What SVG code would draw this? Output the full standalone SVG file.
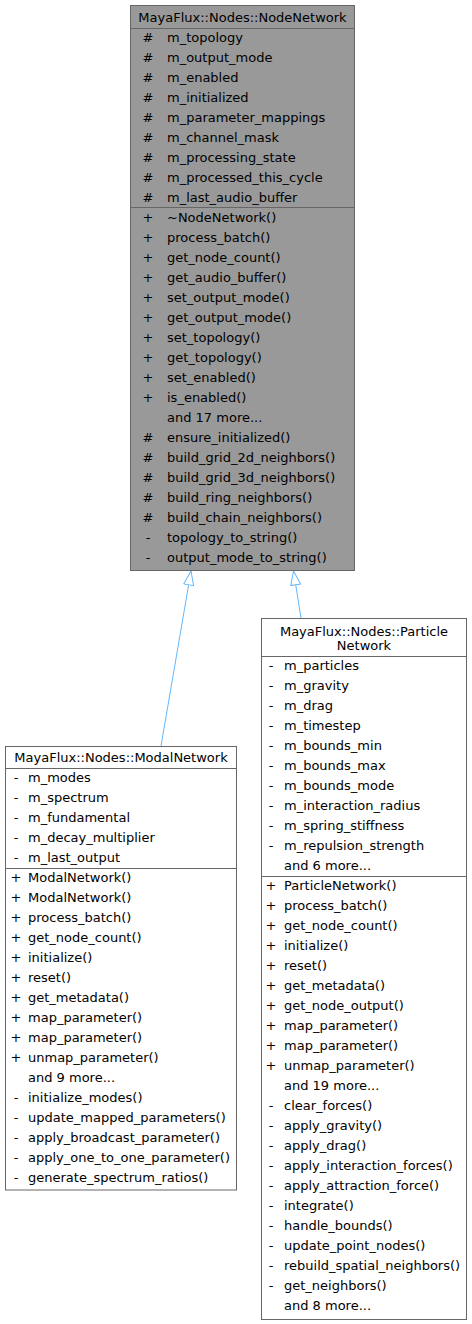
<svg xmlns="http://www.w3.org/2000/svg" width="472" height="1324" viewBox="0 0 472 1324">
<style>
text{font-family:"DejaVu Sans","Liberation Sans",sans-serif;font-size:13px;fill:#000}
.c{text-anchor:middle}
.box{fill:#fff;stroke:#666;stroke-width:1}
.base{fill:#999;stroke:#666;stroke-width:1}
.sep{stroke:#666;stroke-width:1}
.edge{stroke:#63b8ff;stroke-width:1;fill:none}
</style>
<defs>
<marker id="tri" viewBox="0 0 15 11" refX="14.5" refY="5.5" markerWidth="15" markerHeight="11" markerUnits="userSpaceOnUse" orient="auto">
<path d="M0.5,0.5 L14.5,5.5 L0.5,10.5 Z" fill="#fff" stroke="#63b8ff" stroke-width="1"/>
</marker>
</defs>
<g id="edges">
<line class="edge" x1="161" y1="746" x2="191" y2="571" marker-end="url(#tri)"/>
<line class="edge" x1="301" y1="618" x2="293.5" y2="571" marker-end="url(#tri)"/>
</g>
<g id="NodeNetwork">
<rect class="base" x="130.5" y="5.5" width="224" height="565"/>
<line class="sep" x1="130.5" y1="28.5" x2="354.5" y2="28.5"/>
<line class="sep" x1="130.5" y1="207.5" x2="354.5" y2="207.5"/>
<text class="c" x="242.5" y="21.5">MayaFlux::Nodes::NodeNetwork</text>
<text class="c" x="148" y="41.5">#</text><text x="167" y="41.5">m_topology</text>
<text class="c" x="148" y="61.5">#</text><text x="167" y="61.5">m_output_mode</text>
<text class="c" x="148" y="81.5">#</text><text x="167" y="81.5">m_enabled</text>
<text class="c" x="148" y="101.5">#</text><text x="167" y="101.5">m_initialized</text>
<text class="c" x="148" y="121.5">#</text><text x="167" y="121.5">m_parameter_mappings</text>
<text class="c" x="148" y="141.5">#</text><text x="167" y="141.5">m_channel_mask</text>
<text class="c" x="148" y="161.5">#</text><text x="167" y="161.5">m_processing_state</text>
<text class="c" x="148" y="181.5">#</text><text x="167" y="181.5">m_processed_this_cycle</text>
<text class="c" x="148" y="201.5">#</text><text x="167" y="201.5">m_last_audio_buffer</text>
<text class="c" x="148" y="221.5">+</text><text x="167" y="221.5">~NodeNetwork()</text>
<text class="c" x="148" y="241.5">+</text><text x="167" y="241.5">process_batch()</text>
<text class="c" x="148" y="261.5">+</text><text x="167" y="261.5">get_node_count()</text>
<text class="c" x="148" y="281.5">+</text><text x="167" y="281.5">get_audio_buffer()</text>
<text class="c" x="148" y="301.5">+</text><text x="167" y="301.5">set_output_mode()</text>
<text class="c" x="148" y="321.5">+</text><text x="167" y="321.5">get_output_mode()</text>
<text class="c" x="148" y="341.5">+</text><text x="167" y="341.5">set_topology()</text>
<text class="c" x="148" y="361.5">+</text><text x="167" y="361.5">get_topology()</text>
<text class="c" x="148" y="381.5">+</text><text x="167" y="381.5">set_enabled()</text>
<text class="c" x="148" y="401.5">+</text><text x="167" y="401.5">is_enabled()</text>
<text x="167" y="421.5">and 17 more...</text>
<text class="c" x="148" y="441.5">#</text><text x="167" y="441.5">ensure_initialized()</text>
<text class="c" x="148" y="461.5">#</text><text x="167" y="461.5">build_grid_2d_neighbors()</text>
<text class="c" x="148" y="481.5">#</text><text x="167" y="481.5">build_grid_3d_neighbors()</text>
<text class="c" x="148" y="501.5">#</text><text x="167" y="501.5">build_ring_neighbors()</text>
<text class="c" x="148" y="521.5">#</text><text x="167" y="521.5">build_chain_neighbors()</text>
<text class="c" x="148" y="541.5">-</text><text x="167" y="541.5">topology_to_string()</text>
<text class="c" x="148" y="561.5">-</text><text x="167" y="561.5">output_mode_to_string()</text>
</g>
<g id="ModalNetwork">
<rect class="box" x="5.5" y="746.5" width="231" height="443.5"/>
<line class="sep" x1="5.5" y1="768.5" x2="236.5" y2="768.5"/>
<line class="sep" x1="5.5" y1="868.5" x2="236.5" y2="868.5"/>
<text class="c" x="121" y="761.5">MayaFlux::Nodes::ModalNetwork</text>
<text class="c" x="16" y="781.5">-</text><text x="28" y="781.5">m_modes</text>
<text class="c" x="16" y="801.5">-</text><text x="28" y="801.5">m_spectrum</text>
<text class="c" x="16" y="821.5">-</text><text x="28" y="821.5">m_fundamental</text>
<text class="c" x="16" y="841.5">-</text><text x="28" y="841.5">m_decay_multiplier</text>
<text class="c" x="16" y="861.5">-</text><text x="28" y="861.5">m_last_output</text>
<text class="c" x="16" y="881.5">+</text><text x="28" y="881.5">ModalNetwork()</text>
<text class="c" x="16" y="901.5">+</text><text x="28" y="901.5">ModalNetwork()</text>
<text class="c" x="16" y="921.5">+</text><text x="28" y="921.5">process_batch()</text>
<text class="c" x="16" y="941.5">+</text><text x="28" y="941.5">get_node_count()</text>
<text class="c" x="16" y="961.5">+</text><text x="28" y="961.5">initialize()</text>
<text class="c" x="16" y="981.5">+</text><text x="28" y="981.5">reset()</text>
<text class="c" x="16" y="1001.5">+</text><text x="28" y="1001.5">get_metadata()</text>
<text class="c" x="16" y="1021.5">+</text><text x="28" y="1021.5">map_parameter()</text>
<text class="c" x="16" y="1041.5">+</text><text x="28" y="1041.5">map_parameter()</text>
<text class="c" x="16" y="1061.5">+</text><text x="28" y="1061.5">unmap_parameter()</text>
<text x="28" y="1081.5">and 9 more...</text>
<text class="c" x="16" y="1101.5">-</text><text x="28" y="1101.5">initialize_modes()</text>
<text class="c" x="16" y="1121.5">-</text><text x="28" y="1121.5">update_mapped_parameters()</text>
<text class="c" x="16" y="1141.5">-</text><text x="28" y="1141.5">apply_broadcast_parameter()</text>
<text class="c" x="16" y="1161.5">-</text><text x="28" y="1161.5">apply_one_to_one_parameter()</text>
<text class="c" x="16" y="1181.5">-</text><text x="28" y="1181.5">generate_spectrum_ratios()</text>
</g>
<g id="ParticleNetwork">
<rect class="box" x="261.5" y="618.5" width="205" height="701"/>
<line class="sep" x1="261.5" y1="656.5" x2="466.5" y2="656.5"/>
<line class="sep" x1="261.5" y1="876.5" x2="466.5" y2="876.5"/>
<text class="c" x="364" y="636">MayaFlux::Nodes::Particle</text>
<text class="c" x="364" y="650">Network</text>
<text class="c" x="271" y="670">-</text><text x="284" y="670">m_particles</text>
<text class="c" x="271" y="690">-</text><text x="284" y="690">m_gravity</text>
<text class="c" x="271" y="710">-</text><text x="284" y="710">m_drag</text>
<text class="c" x="271" y="730">-</text><text x="284" y="730">m_timestep</text>
<text class="c" x="271" y="750">-</text><text x="284" y="750">m_bounds_min</text>
<text class="c" x="271" y="770">-</text><text x="284" y="770">m_bounds_max</text>
<text class="c" x="271" y="790">-</text><text x="284" y="790">m_bounds_mode</text>
<text class="c" x="271" y="810">-</text><text x="284" y="810">m_interaction_radius</text>
<text class="c" x="271" y="830">-</text><text x="284" y="830">m_spring_stiffness</text>
<text class="c" x="271" y="850">-</text><text x="284" y="850">m_repulsion_strength</text>
<text x="284" y="870">and 6 more...</text>
<text class="c" x="271" y="890">+</text><text x="284" y="890">ParticleNetwork()</text>
<text class="c" x="271" y="910">+</text><text x="284" y="910">process_batch()</text>
<text class="c" x="271" y="930">+</text><text x="284" y="930">get_node_count()</text>
<text class="c" x="271" y="950">+</text><text x="284" y="950">initialize()</text>
<text class="c" x="271" y="970">+</text><text x="284" y="970">reset()</text>
<text class="c" x="271" y="990">+</text><text x="284" y="990">get_metadata()</text>
<text class="c" x="271" y="1010">+</text><text x="284" y="1010">get_node_output()</text>
<text class="c" x="271" y="1030">+</text><text x="284" y="1030">map_parameter()</text>
<text class="c" x="271" y="1050">+</text><text x="284" y="1050">map_parameter()</text>
<text class="c" x="271" y="1070">+</text><text x="284" y="1070">unmap_parameter()</text>
<text x="284" y="1090">and 19 more...</text>
<text class="c" x="271" y="1110">-</text><text x="284" y="1110">clear_forces()</text>
<text class="c" x="271" y="1130">-</text><text x="284" y="1130">apply_gravity()</text>
<text class="c" x="271" y="1150">-</text><text x="284" y="1150">apply_drag()</text>
<text class="c" x="271" y="1170">-</text><text x="284" y="1170">apply_interaction_forces()</text>
<text class="c" x="271" y="1190">-</text><text x="284" y="1190">apply_attraction_force()</text>
<text class="c" x="271" y="1210">-</text><text x="284" y="1210">integrate()</text>
<text class="c" x="271" y="1230">-</text><text x="284" y="1230">handle_bounds()</text>
<text class="c" x="271" y="1250">-</text><text x="284" y="1250">update_point_nodes()</text>
<text class="c" x="271" y="1270">-</text><text x="284" y="1270">rebuild_spatial_neighbors()</text>
<text class="c" x="271" y="1290">-</text><text x="284" y="1290">get_neighbors()</text>
<text x="284" y="1310">and 8 more...</text>
</g>
</svg>
